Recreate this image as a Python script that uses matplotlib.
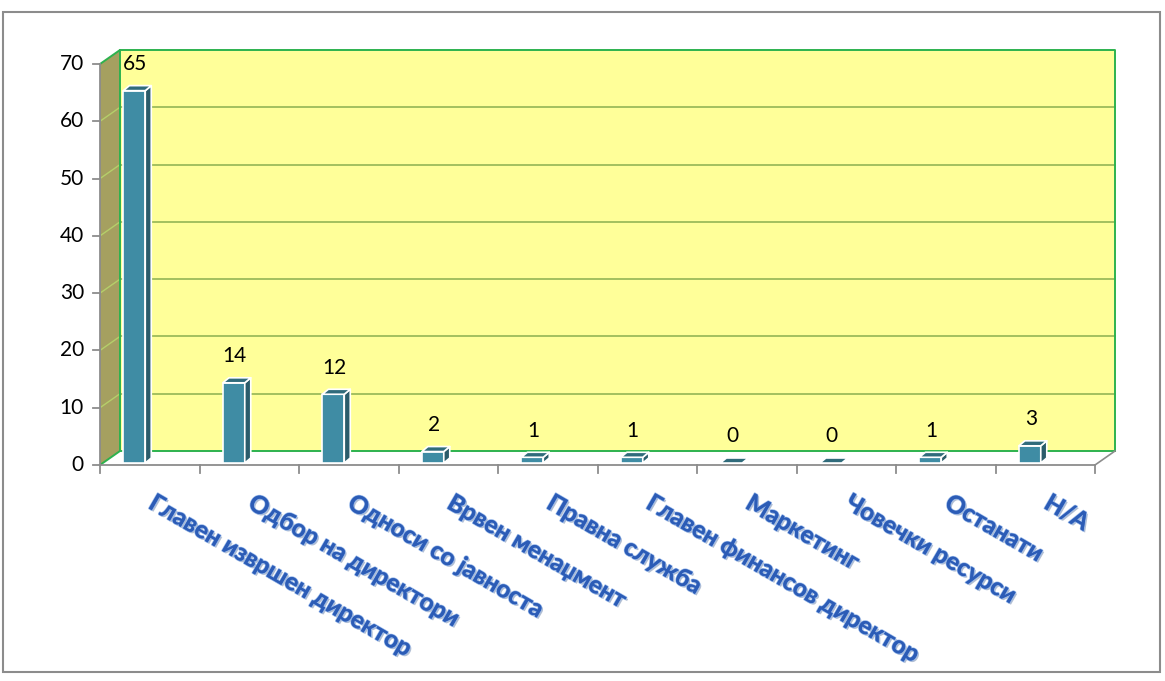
import matplotlib
matplotlib.use("Agg")
import matplotlib.pyplot as plt
from matplotlib.patches import Polygon, Rectangle
import matplotlib.patheffects as pe

categories = ["Главен извршен директор", "Одбор на директори", "Односи со јавноста",
              "Врвен менаџмент", "Правна служба", "Главен финансов директор",
              "Маркетинг", "Човечки ресурси", "Останати", "Н/А"]
values = [65, 14, 12, 2, 1, 1, 0, 0, 1, 3]
yticks = [0, 10, 20, 30, 40, 50, 60, 70]

W, H = 1165, 681
fig = plt.figure(figsize=(W / 100, H / 100), dpi=100)

# plot area: x 0..10 -> px 100..1095, y 0..70 -> px 465..64
px_l, px_r, px_b, px_t = 100, 1095, 465, 64
ax = fig.add_axes([px_l / W, 1 - px_b / H, (px_r - px_l) / W, (px_b - px_t) / H])
ax.set_xlim(0, 10)
ax.set_ylim(0, 70)
ax.axis("off")

ppx = (px_r - px_l) / 10.0       # px per category
ppy = (px_b - px_t) / 70.0       # px per value unit
DX = 20 / ppx                    # wall depth offset
DY = 14 / ppy
n = len(categories)

wall_green = "#2DB24E"
grid_green = "#9CBB5A"
axis_grey = "#8C8C8C"

# back wall
ax.add_patch(Rectangle((DX, DY), n, 70, facecolor="#FFFF99", edgecolor="none",
                       clip_on=False, zorder=1))
# side wall
ax.add_patch(Polygon([(0, 0), (DX, DY), (DX, 70 + DY), (0, 70)], closed=True,
                     facecolor="#A5A060", edgecolor="none", clip_on=False, zorder=1))
# gridlines on both walls
for yv in yticks[1:-1]:
    ax.plot([DX, n + DX], [yv + DY, yv + DY], color=grid_green, lw=1.3,
            clip_on=False, zorder=2)
    ax.plot([0, DX], [yv, yv + DY], color="#B5CF6A", lw=1.0, clip_on=False, zorder=2)
# wall borders
ax.plot([0, DX, n + DX, n + DX], [70, 70 + DY, 70 + DY, DY], color=wall_green, lw=1.4,
        clip_on=False, zorder=3)
ax.plot([DX, DX], [DY, 70 + DY], color=wall_green, lw=1.4, clip_on=False, zorder=3)
ax.plot([0, DX, n + DX], [0, DY, DY], color=wall_green, lw=1.4, clip_on=False, zorder=3)
ax.plot([n, n + DX], [0, DY], color=axis_grey, lw=1.2, clip_on=False, zorder=3)

# axes lines and ticks
ax.plot([0, 0], [0, 70], color=axis_grey, lw=1.3, clip_on=False, zorder=4)
ax.plot([0, n], [0, 0], color=axis_grey, lw=1.3, clip_on=False, zorder=4)
tick_x = 7 / ppx
tick_y = 8 / ppy
for yv in yticks:
    ax.plot([-tick_x, 0], [yv, yv], color=axis_grey, lw=1.3, clip_on=False, zorder=4)
    ax.text(-16 / ppx, yv, str(yv), ha="right", va="center", fontsize=15,
            family="Lato", color="black")
for i in range(n + 1):
    ax.plot([i, i], [0, -tick_y], color=axis_grey, lw=1.3, clip_on=False, zorder=4)

# bars with pseudo-3D faces
front_c, side_c, top_c = "#3F8CA4", "#2B5C6B", "#306B7B"
x_off, bw = 0.235, 0.22
base = 2 / ppy
bdx, bdy = 6 / ppx, 5 / ppy
for i, v in enumerate(values):
    x0 = i + x_off
    x1 = x0 + bw
    b = base
    t = b + v
    kw = dict(closed=True, edgecolor="white", lw=1.2, clip_on=False, zorder=5,
              joinstyle="round")
    if v > 0:
        ax.add_patch(Polygon([(x0, b), (x1, b), (x1, t), (x0, t)], facecolor=front_c, **kw))
        ax.add_patch(Polygon([(x1, b), (x1 + bdx, b + bdy), (x1 + bdx, t + bdy), (x1, t)],
                             facecolor=side_c, **kw))
    ax.add_patch(Polygon([(x0, t), (x1, t), (x1 + bdx, t + bdy), (x0 + bdx, t + bdy)],
                         facecolor=top_c, **kw))
    ax.text(x0 + bw / 2 + 0.01, v + 5.0, str(v), ha="center", va="center",
            fontsize=15, family="Lato", color="black", zorder=6)

# category labels
label_fx = [pe.SimplePatchShadow(offset=(1.2, -1.2), shadow_rgbFace="#7F95B8", alpha=0.6),
            pe.withStroke(linewidth=1.2, foreground="#8FB2E8"), pe.Normal()]
for i, name in enumerate(categories):
    ax.text(i + 0.57, -26 / ppy, name, rotation=-30, rotation_mode="anchor",
            ha="left", va="top", fontsize=17.5, fontweight="bold", family="Lato",
            color="#2C5CB6", path_effects=label_fx, clip_on=False)

# outer frame
fig.add_artist(Rectangle((3 / W, 1 - 672 / H), 1157 / W, 660 / H, transform=fig.transFigure,
                         facecolor="none", edgecolor="#8C8C8C", lw=1.5))

fig.savefig("out.png", dpi=100)
